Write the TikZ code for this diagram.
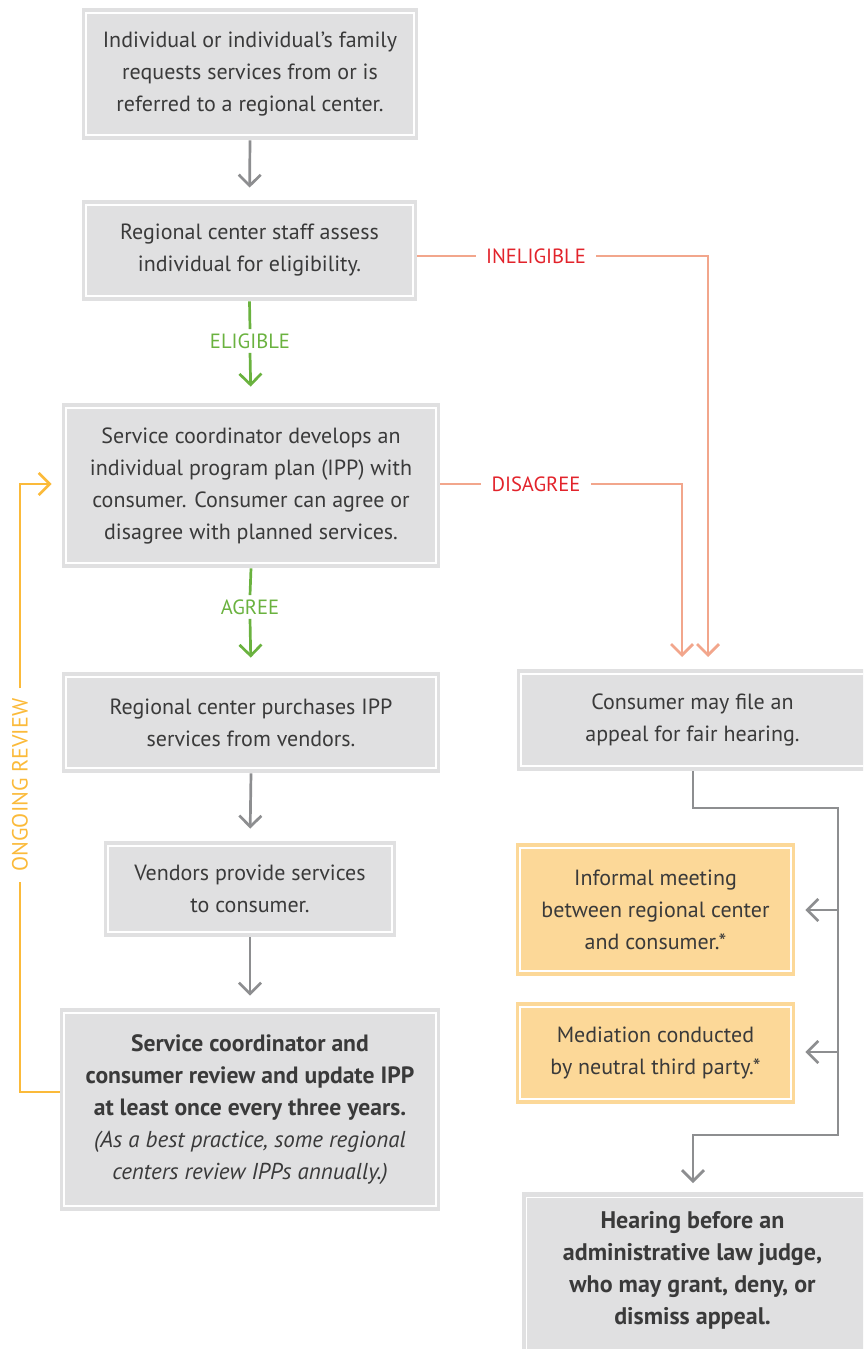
\documentclass[tikz,border=0pt]{standalone}
\usepackage{fontspec}
\setmainfont{PT Sans}
\usetikzlibrary{arrows.meta,calc}
\definecolor{boxgray}{HTML}{E0E0E1}
\definecolor{txt}{HTML}{3A3A3A}
\definecolor{arrgray}{HTML}{8D8E90}
\definecolor{salmon}{HTML}{F2A68C}
\definecolor{redtxt}{HTML}{E2232B}
\definecolor{grn}{HTML}{6AB23F}
\definecolor{orng}{HTML}{FBBA3A}
\definecolor{obox}{HTML}{FCD898}
\tikzset{
  box/.style={fill=boxgray, inner sep=0pt, align=center, text=txt,
    font=\fontsize{11}{16}\selectfont,
    path picture={\draw[white,line width=0.7pt]
      ([shift={(2pt,-2.5pt)}]path picture bounding box.north west) rectangle
      ([shift={(-2pt,2.5pt)}]path picture bounding box.south east);}},
  obx/.style={box, fill=obox},
  semib/.style={font=\bfseries\fontsize{12}{16}\selectfont},
  lbl/.style={font=\fontsize{10.3}{11}\selectfont, inner xsep=5pt, inner ysep=2pt},
  tip/.style={-{Straight Barb[length=5.5pt,width=11pt,line width=1.35pt]}},
  garr/.style={draw=arrgray, line width=1.35pt},
  sarr/.style={draw=salmon, line width=1.35pt},
  grarr/.style={draw=grn, line width=1.35pt},
  oarr/.style={draw=orng, line width=1.35pt},
}
\begin{document}
\begin{tikzpicture}[x=0.5pt,y=-0.5pt]
\path[use as bounding box] (0,0) rectangle (863,1349);
\clip (0,0) rectangle (863,1349);

% left column
\node[box, minimum width=168pt, minimum height=66pt] (b1) at (250,74)
  {Individual or individual’s family\\requests services from or is\\referred to a regional center.};
\node[box, minimum width=167.5pt, minimum height=50.5pt] (b2) at (249.5,250.5)
  {Regional center staff assess\\individual for eligibility.};
\node[box, minimum width=189pt, minimum height=82.5pt] (b3) at (251,485.5)
  {Service coordinator develops an\\individual program plan (IPP) with\\consumer. Consumer can agree or\\disagree with planned services.};
\node[box, minimum width=189pt, minimum height=50.5pt] (b4) at (251,722.5)
  {Regional center purchases IPP\\services from vendors.};
\node[box, minimum width=146pt, minimum height=48pt] (b5) at (250,889)
  {Vendors provide services\\to consumer.};
\node[box, minimum width=190pt, minimum height=101.5pt] (b6) at (250,1109.5)
  {{\bfseries\fontsize{11.8}{16}\selectfont Service coordinator and}\\{\bfseries\fontsize{11.8}{16}\selectfont consumer review and update IPP}\\{\bfseries\fontsize{11.8}{16}\selectfont at least once every three years.}\\{\itshape\fontsize{11.5}{16}\selectfont (As a best practice, some regional}\\{\itshape\fontsize{11.5}{16}\selectfont centers review IPPs annually.)}};

% right column
\node[box, minimum width=175.5pt, minimum height=51pt] (ap) at (692.5,720)
  {Consumer may file an\\appeal for fair hearing.};
\node[obx, minimum width=139.5pt, minimum height=66.5pt] (o1) at (655.5,909.5)
  {Informal meeting\\between regional center\\and consumer.*};
\node[obx, minimum width=139.5pt, minimum height=51pt] (o2) at (655.5,1053)
  {Mediation conducted\\by neutral third party.*};
\node[box, minimum width=175pt, minimum height=84pt, anchor=north west] (hr) at (522,1192) {};
\node[text=txt, align=center, semib] (hrt) at (692.5,1270)
  {Hearing before an\\administrative law judge,\\who may grant, deny, or\\dismiss appeal.};

% labels
\node[lbl, text=grn] (el) at (250,341) {ELIGIBLE};
\node[lbl, text=grn] (ag) at (250,607) {AGREE};
\node[lbl, text=redtxt] (in) at (536,256) {INELIGIBLE};
\node[lbl, text=redtxt] (di) at (536,484) {DISAGREE};
\node[lbl, text=orng, rotate=90, font=\fontsize{11}{11}\selectfont] (or) at (20,785) {ONGOING REVIEW};

% coordinates
\coordinate (inC) at (708,256);
\coordinate (inT) at (708,669);
\coordinate (diC) at (682,484);
\coordinate (diT) at (682,669);
\coordinate (a1) at (693,808);
\coordinate (a2) at (838,808);
\coordinate (a3) at (838,1135);
\coordinate (a4) at (693,1135);
\coordinate (br1) at (838,910);
\coordinate (br2) at (838,1052);
\coordinate (r1) at (20,1092);
\coordinate (r2) at (20,484);

% gray flow
\draw[garr, tip, shorten >=6pt] (b1.south) -- (b2.north);
\draw[garr, tip, shorten >=6pt] (b4.south) -- (b5.north);
\draw[garr, tip, shorten >=6pt] (b5.south) -- (b6.north);

% green
\draw[grarr] (b2.south) -- (el.north);
\draw[grarr, tip, shorten >=8pt] (el.south) -- (b3.north);
\draw[grarr] (b3.south) -- (ag.north);
\draw[grarr, tip, shorten >=7pt] (ag.south) -- (b4.north);

% salmon
\draw[sarr] (b2.east |- in) -- (in.west);
\draw[sarr, tip, shorten >=6pt] (in.east) -- (inC) -- (inT);
\draw[sarr] (b3.east |- di) -- (di.west);
\draw[sarr, tip, shorten >=6pt] (di.east) -- (diC) -- (diT);

% ongoing review
\draw[oarr] (b6.west |- r1) -- (r1) -- (or.west);
\draw[oarr, tip, shorten >=5pt] (or.east) -- (r2) -- (b3.west |- r2);

% appeal
\draw[garr, tip, shorten >=4.5pt] (ap.south -| a1) -- (a1) -- (a2) -- (a3) -- (a4) -- (hr.north -| a4);
\draw[garr, tip, shorten >=5pt] (br1) -- (o1.east |- br1);
\draw[garr, tip, shorten >=5pt] (br2) -- (o2.east |- br2);
\end{tikzpicture}
\end{document}
